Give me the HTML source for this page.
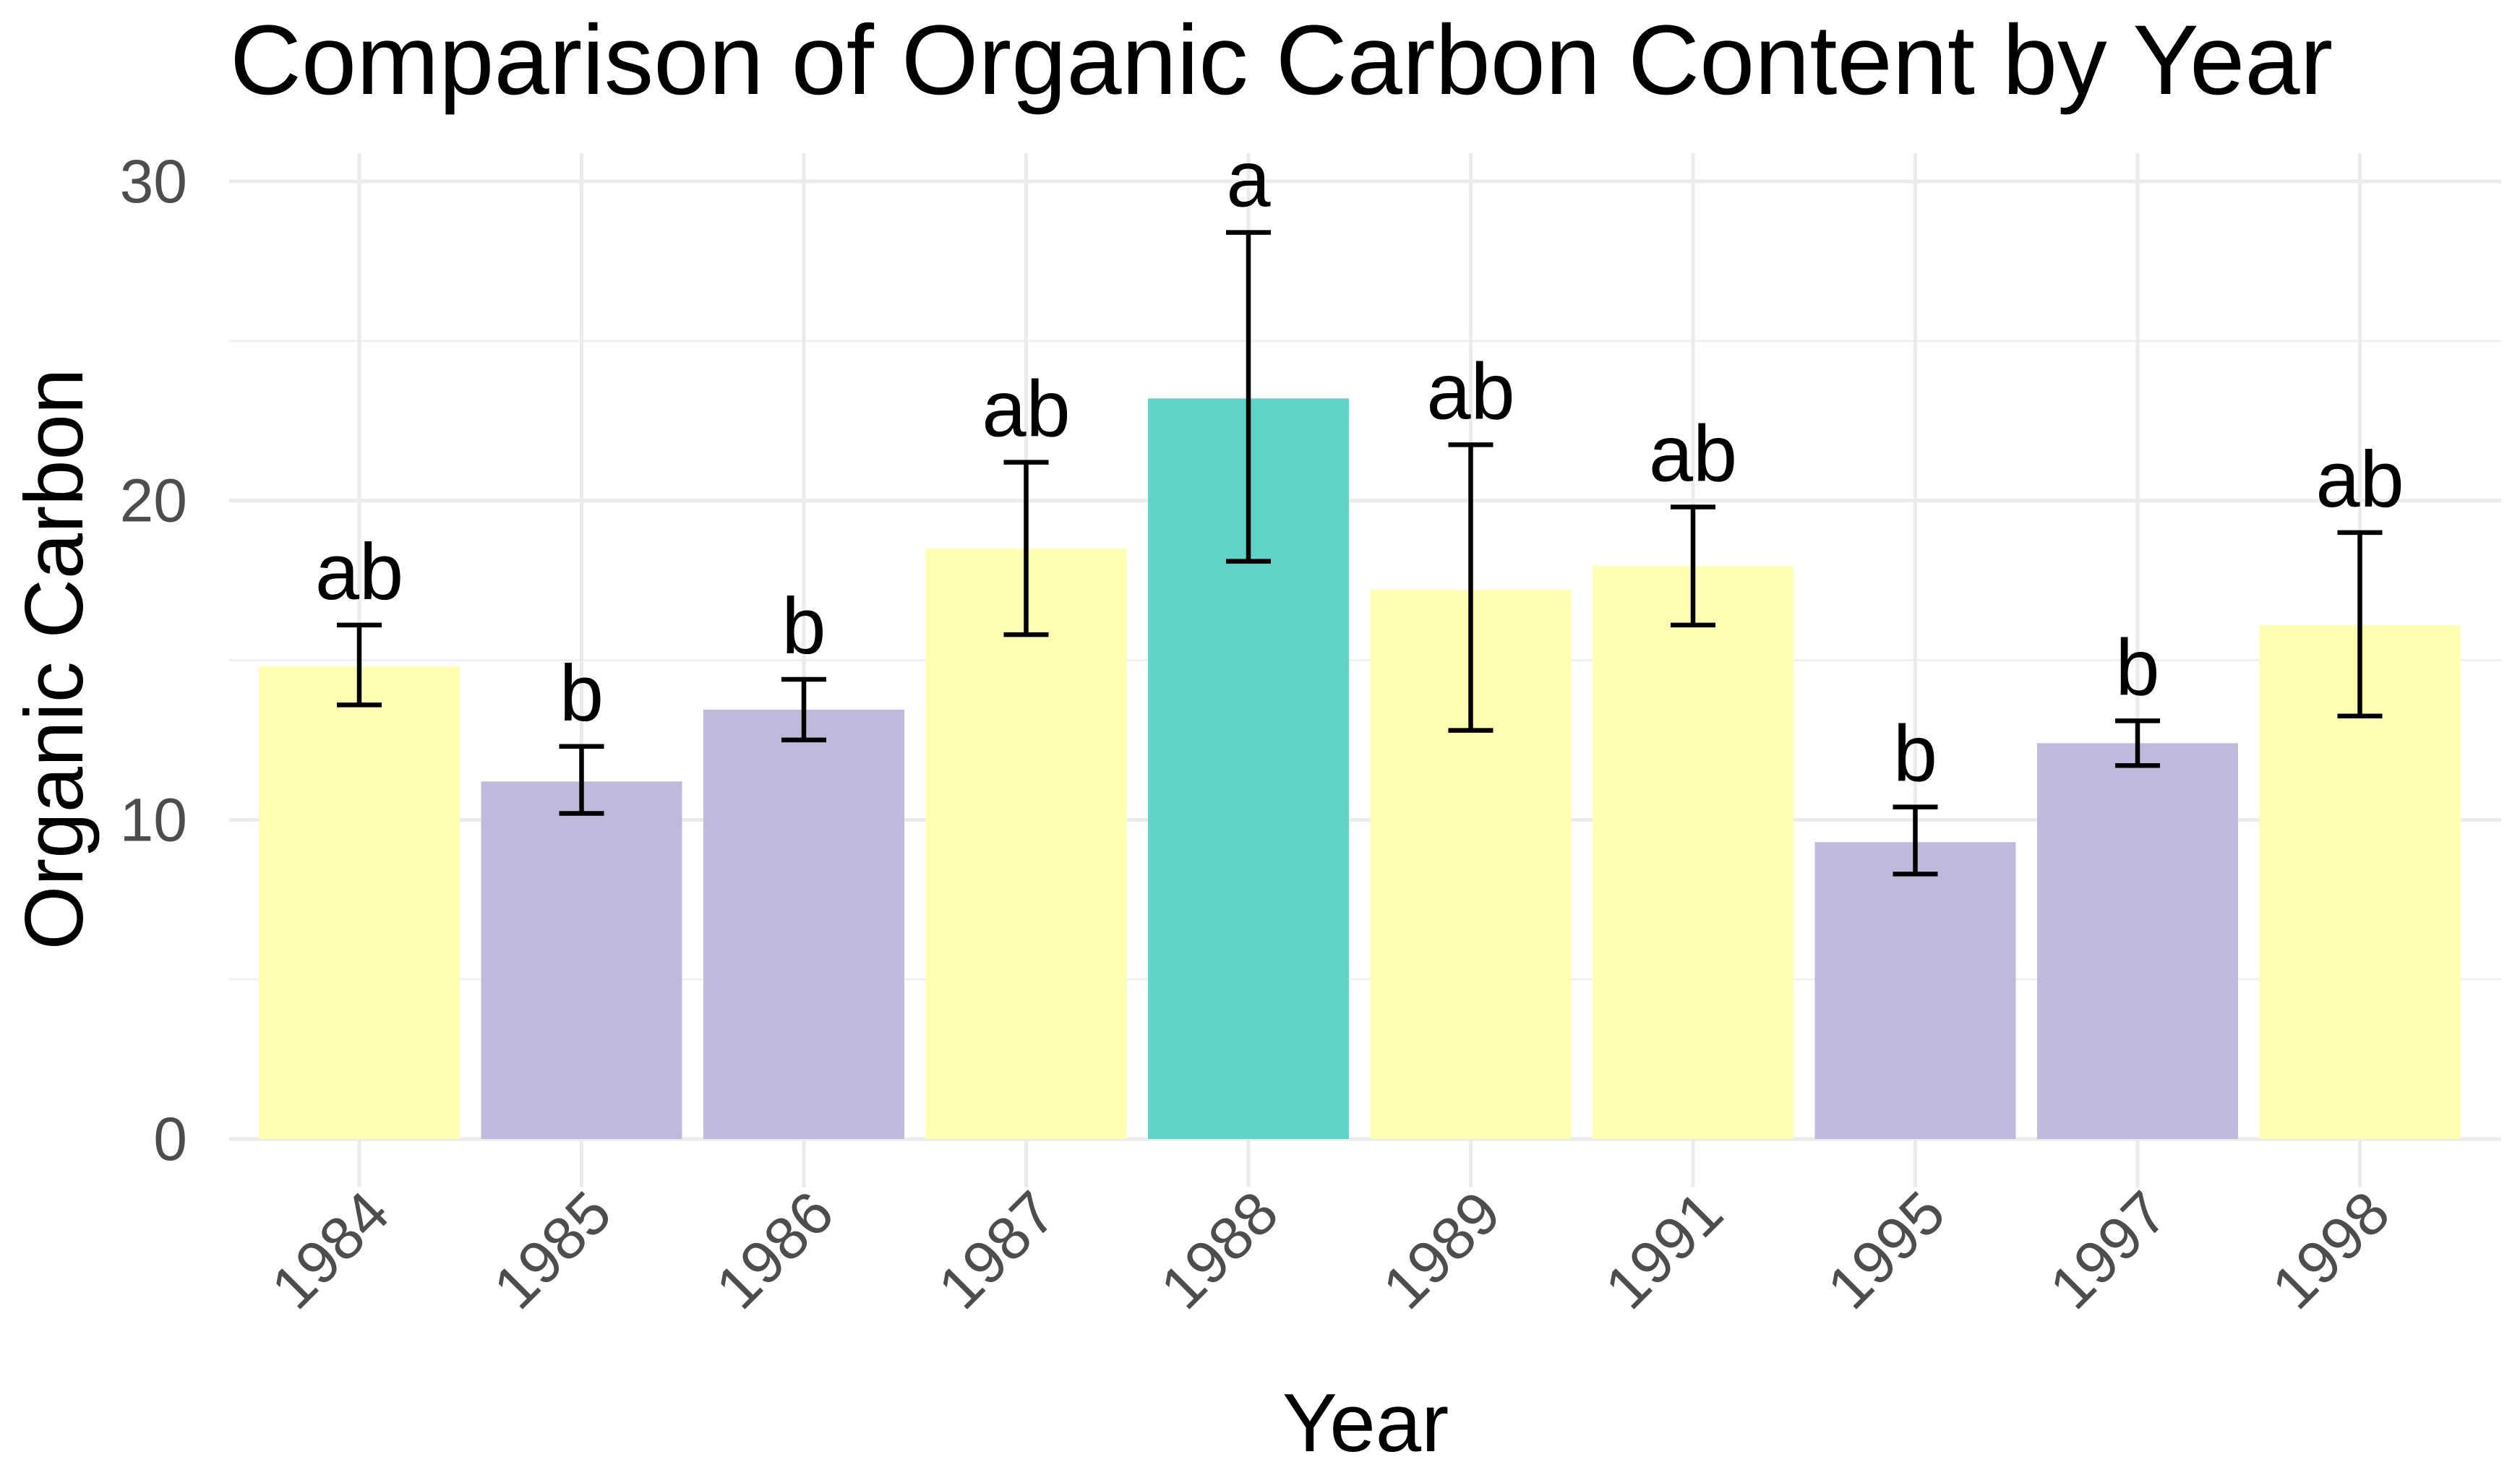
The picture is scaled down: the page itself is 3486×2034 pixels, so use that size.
<!DOCTYPE html>
<html><head><meta charset="utf-8"><style>
html,body{margin:0;padding:0;background:#fff;}
svg{display:block;font-family:"Liberation Sans",sans-serif;}
</style></head><body>
<svg id="chart" width="3486" height="2034" viewBox="0 0 3486 2034" xmlns="http://www.w3.org/2000/svg">
<text x="318" y="130" font-size="137" fill="#000">Comparison of Organic Carbon Content by Year</text>
<text transform="translate(114,912) rotate(-90)" text-anchor="middle" font-size="114" fill="#000">Organic Carbon</text>
<text x="1889" y="2008" text-anchor="middle" font-size="114" fill="#000">Year</text>
<g id="grid"></g><g id="bars"></g><g id="errs"></g><g id="labels"></g><g id="yticks"></g><g id="xticks"></g>
</svg>
<script>
const categories=["1984","1985","1986","1987","1988","1989","1991","1995","1997","1998"];
const means=[14.8,11.2,13.45,18.5,23.2,17.2,17.95,9.3,12.4,16.1];
const upper=[16.1,12.3,14.4,21.2,28.4,21.75,19.8,10.4,13.1,19.0];
const lower=[13.6,10.2,12.5,15.8,18.1,12.8,16.1,8.3,11.7,13.25];
const letters=["ab","b","b","ab","a","ab","ab","b","b","ab"];
const groups=["ab","b","b","ab","a","ab","ab","b","b","ab"];
const yTicks=[0,10,20,30];
const yMinor=[5,15,25];
const colors={"a":"#5fd4c7","ab":"#ffffb3","b":"#bfbadb"};
const NS="http://www.w3.org/2000/svg";
const y0=1576,y30=251,x0=497,step=307.5,bw=278;
function ys(v){return y0-(y0-y30)*v/30;}
function xs(i){return x0+i*step;}
function mk(parent,tag,attrs){const e=document.createElementNS(NS,tag);for(const k in attrs)e.setAttribute(k,attrs[k]);document.getElementById(parent).appendChild(e);return e;}
const L=317,R=3460,T=212,B=1643;
yMinor.forEach(v=>{const e=mk('grid','line',{x1:L,x2:R,y1:ys(v),y2:ys(v),stroke:'#f0f0f0','stroke-width':3});

});
yTicks.forEach(v=>{const e=mk('grid','line',{x1:L,x2:R,y1:ys(v),y2:ys(v),stroke:'#ebebeb','stroke-width':5});


const t=mk('yticks','text',{x:259,y:ys(v)+29,'text-anchor':'end','font-size':84,fill:'#4d4d4d'});t.textContent=v;

});
categories.forEach((c,i)=>{const x=xs(i);
const g=mk('grid','line',{x1:x,x2:x,y1:T,y2:B,stroke:'#ebebeb','stroke-width':5});


const b=mk('bars','rect',{x:x-bw/2,y:ys(means[i]),width:bw,height:ys(0)-ys(means[i]),fill:colors[groups[i]]});


const eg=mk('errs','path',{d:`M${x-31},${ys(upper[i])}H${x+31}M${x},${ys(upper[i])}V${ys(lower[i])}M${x-31},${ys(lower[i])}H${x+31}`,stroke:'#000','stroke-width':6.5,fill:'none'});


const l=mk('labels','text',{x:x,y:ys(upper[i])-36,'text-anchor':'middle','font-size':110,fill:'#000'});l.textContent=letters[i];


const t=mk('xticks','text',{transform:`translate(${x+46},1684) rotate(-45)`,'text-anchor':'end','font-size':84,fill:'#4d4d4d'});t.textContent=c;

});
</script>
</body></html>
